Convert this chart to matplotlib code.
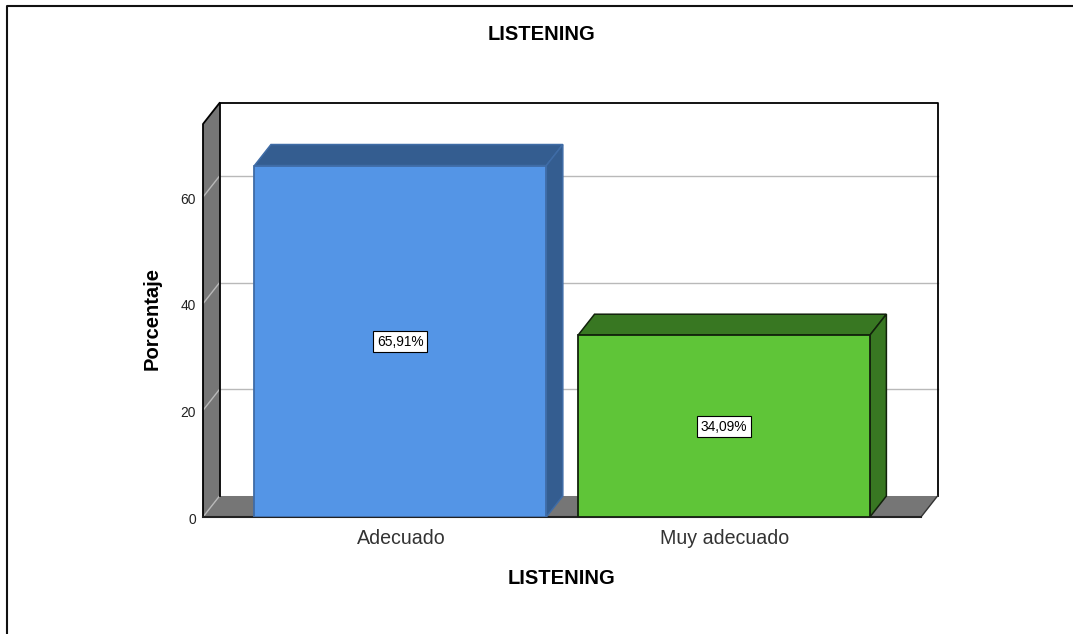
import matplotlib
matplotlib.use('Agg')
import matplotlib.pyplot as plt
from matplotlib.patches import Polygon, Rectangle
from matplotlib.lines import Line2D

plt.rcParams['font.family'] = ['Liberation Sans', 'DejaVu Sans']

categories = ['Adecuado', 'Muy adecuado']
percentages = [65.91, 34.09]
bar_labels = ['65,91%', '34,09%']
y_ticks = [0, 20, 40, 60]
front_colors = ['#5495e6', '#5fc538']
side_colors = ['#345d90', '#387722']
edge_colors = ['#3f6ca6', '#12220c']

W, H = 1073, 634
fig = plt.figure(figsize=(W / 100, H / 100), dpi=100)

# axes = front plane of the 3D box, depth is faked with polygons
left, right, bottom, top = 203, 921, 517, 124
ax = fig.add_axes([left / W, 1 - bottom / H, (right - left) / W, (bottom - top) / H])
ax.set_xlim(-0.610, 1.609)
ax.set_ylim(0, 73.7)
ax.axis('off')

x0, x1 = ax.get_xlim()
y0, y1 = ax.get_ylim()
dx = 16.5 / 323.25
dy = 21 / 5.33
width = 0.902

# walls
ax.add_patch(Polygon([(x0, y0), (x0 + dx, y0 + dy), (x1 + dx, y0 + dy), (x1, y0)],
                     fc='#767676', ec='none', zorder=1, clip_on=False))
ax.add_patch(Polygon([(x0, y0), (x0 + dx, y0 + dy), (x0 + dx, y1 + dy), (x0, y1)],
                     fc='#767676', ec='none', zorder=1, clip_on=False))

# grid on back wall and side wall
for t in y_ticks[1:]:
    ax.plot([x0 + dx, x1 + dx], [t + dy, t + dy], color='#b9b9b9', lw=1, zorder=2, clip_on=False)
for t in y_ticks:
    ax.plot([x0, x0 + dx], [t, t + dy], color='#b9b9b9', lw=1, zorder=2, clip_on=False)

# outlines
ax.plot([x0 + dx, x0 + dx, x1 + dx, x1 + dx], [y0 + dy, y1 + dy, y1 + dy, y0 + dy],
        color='black', lw=1.3, zorder=3, clip_on=False)
ax.plot([x1 + dx, x1], [y0 + dy, y0], color='#333333', lw=1, zorder=3, clip_on=False)
ax.plot([x0, x0, x0 + dx], [y0, y1, y1 + dy], color='black', lw=1.3, zorder=3, clip_on=False)
ax.plot([x0, x1], [y0, y0], color='#222222', lw=1.5, zorder=3, clip_on=False)

for i, val in enumerate(percentages):
    l = i - width / 2
    r = i + width / 2
    ax.add_patch(Polygon([(l, val), (l + dx, val + dy), (r + dx, val + dy), (r, val)],
                         fc=side_colors[i], ec=edge_colors[i], lw=1.1, zorder=4))
    ax.add_patch(Polygon([(r, 0), (r + dx, dy), (r + dx, val + dy), (r, val)],
                         fc=side_colors[i], ec=edge_colors[i], lw=1.1, zorder=4))
    ax.add_patch(Rectangle((l, 0), width, val, fc=front_colors[i], ec=edge_colors[i], lw=1.3, zorder=5))
    ax.text(i, val / 2 - 0.1, bar_labels[i], ha='center', va='center', fontsize=9.9, color='black', zorder=6,
            bbox=dict(boxstyle='square,pad=0.26', fc='white', ec='black', lw=0.8))
    ax.text(i + 0.002, -4.1, categories[i], ha='center', va='center', fontsize=14.1, color='#333333', clip_on=False)

for t in y_ticks:
    ax.text(x0 - 0.022, t - 0.5, str(t), ha='right', va='center', fontsize=9.9, color='#222222', clip_on=False)

fig.text(541.5 / W, 1 - 34.5 / H, 'LISTENING', ha='center', va='center', fontsize=14.5, fontweight='bold')
fig.text(561.5 / W, 1 - 578.5 / H, 'LISTENING', ha='center', va='center', fontsize=14.5, fontweight='bold')
fig.text(152 / W, 1 - 318.5 / H, 'Porcentaje', ha='center', va='center', rotation=90, fontsize=14.5, fontweight='bold')

# image frame, only top and left
fig.add_artist(Line2D([7 / W, 7 / W, 1], [0, 1 - 6 / H, 1 - 6 / H], color='#111111', lw=1.5))

fig.savefig('out.png', dpi=100)
